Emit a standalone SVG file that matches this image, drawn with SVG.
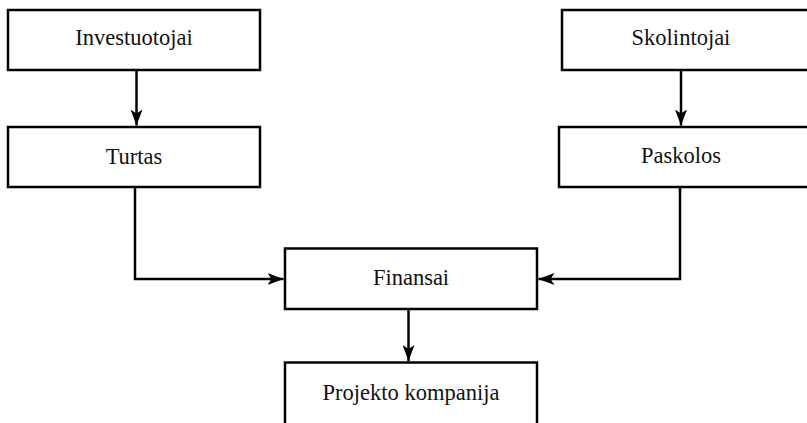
<svg xmlns="http://www.w3.org/2000/svg" width="807" height="423" viewBox="0 0 807 423">
<defs>
<style>
.box{fill:#fff;stroke:#000;stroke-width:2.5}
.lbl{font-family:"Liberation Serif","Times New Roman",serif;font-size:22.5px;fill:#111;text-anchor:middle}
.con{fill:none;stroke:#000;stroke-width:2.5}
</style>
<marker id="a" viewBox="0 0 16 12" refX="16" refY="6" markerWidth="16" markerHeight="12" markerUnits="userSpaceOnUse" orient="auto">
<path d="M0,0 L16,6 L0,12 L4,6 Z" fill="#000"/>
</marker>
</defs>
<g id="n1"><rect class="box" x="8" y="10" width="252" height="60"/><text class="lbl" x="134" y="44.5">Investuotojai</text></g>
<g id="n2"><rect class="box" x="8" y="127" width="252" height="60"/><text class="lbl" x="134" y="163.5">Turtas</text></g>
<g id="n3"><rect class="box" x="562" y="10" width="250" height="60"/><text class="lbl" x="681" y="45">Skolintojai</text></g>
<g id="n4"><rect class="box" x="559" y="127" width="253" height="60"/><text class="lbl" x="681" y="163">Paskolos</text></g>
<g id="n5"><rect class="box" x="285" y="248.5" width="252" height="60.5"/><text class="lbl" x="411" y="285">Finansai</text></g>
<g id="n6"><rect class="box" x="285" y="362.5" width="252" height="70"/><text class="lbl" x="411" y="399.5">Projekto kompanija</text></g>
<g id="connectors">
<path class="con" d="M136.5,70 V125.5" marker-end="url(#a)"/>
<path class="con" d="M681,70 V125.5" marker-end="url(#a)"/>
<path class="con" d="M135,187 V279 H283.5" marker-end="url(#a)"/>
<path class="con" d="M680,187 V279 H538.5" marker-end="url(#a)"/>
<path class="con" d="M408.5,309 V361" marker-end="url(#a)"/>
</g>
</svg>
